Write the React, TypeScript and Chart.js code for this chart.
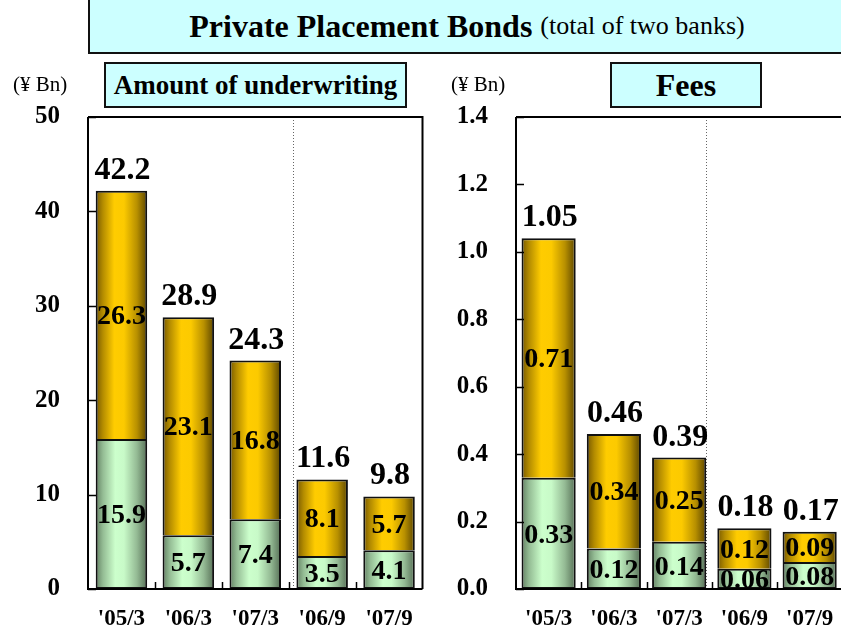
import React, { useEffect, useRef } from "react";
import { Chart, registerables } from "chart.js";

Chart.register(...registerables);

const categories = ["'05/3", "'06/3", "'07/3", "'06/9", "'07/9"];

const amountLower = [15.9, 5.7, 7.4, 3.5, 4.1];
const amountUpper = [26.3, 23.1, 16.8, 8.1, 5.7];
const amountTotal = [42.2, 28.9, 24.3, 11.6, 9.8];

const feesLower = [0.33, 0.12, 0.14, 0.06, 0.08];
const feesUpper = [0.71, 0.34, 0.25, 0.12, 0.09];
const feesTotal = [1.05, 0.46, 0.39, 0.18, 0.17];

const amountAxis = { min: 0, max: 50, step: 10, decimals: 0 };
const feesAxis = { min: 0, max: 1.4, step: 0.2, decimals: 1 };

const SERIF = '"Times New Roman", "Liberation Serif", serif';

const greenStops: [number, string][] = [
  [0, "#628062"],
  [0.14, "#94bc94"],
  [0.38, "#ccffcc"],
  [0.55, "#c8fac8"],
  [0.8, "#94ba94"],
  [1, "#566f56"],
];
const goldStops: [number, string][] = [
  [0, "#765800"],
  [0.14, "#b48c00"],
  [0.36, "#ffcc00"],
  [0.55, "#fcca00"],
  [0.8, "#b89000"],
  [1, "#5c4600"],
];

type PanelCfg = {
  lower: number[];
  upper: number[];
  total: number[];
  axis: { min: number; max: number; step: number; decimals: number };
  valueDecimals: number;
  barPct: number;
  yWidth: number;
  padRight: number;
  dividerOffset: number;
};

function makePlugin(cfg: PanelCfg) {
  return {
    id: "decor",
    beforeDatasetsDraw(chart: any) {
      const { ctx, chartArea: ca } = chart;
      const xs = chart.scales.x;
      const n = categories.length;
      const step = (ca.right - ca.left) / n;
      // dotted divider between fiscal-year and half-year figures
      const bx = xs.getPixelForValue(2) + step / 2 + cfg.dividerOffset;
      ctx.save();
      ctx.strokeStyle = "#666";
      ctx.lineWidth = 1;
      ctx.setLineDash([1, 2]);
      ctx.beginPath();
      ctx.moveTo(Math.round(bx) + 0.5, ca.top);
      ctx.lineTo(Math.round(bx) + 0.5, ca.bottom);
      ctx.stroke();
      ctx.restore();
    },
    beforeDatasetDraw(chart: any, args: any) {
      const stops = args.index === 0 ? greenStops : goldStops;
      const meta = args.meta;
      meta.data.forEach((el: any) => {
        const g = chart.ctx.createLinearGradient(el.x - el.width / 2, 0, el.x + el.width / 2, 0);
        stops.forEach(([o, c]) => g.addColorStop(o, c));
        el.options = Object.assign({}, el.options, { backgroundColor: g });
      });
    },
    afterDatasetsDraw(chart: any) {
      const { ctx, chartArea: ca } = chart;
      ctx.save();
      ctx.beginPath();
      ctx.rect(ca.left, ca.top, ca.right - ca.left, ca.bottom - ca.top);
      ctx.clip();
      ctx.fillStyle = "#000";
      ctx.textAlign = "center";
      ctx.textBaseline = "middle";
      ctx.font = `bold 28px ${SERIF}`;
      chart.data.datasets.forEach((ds: any, di: number) => {
        const meta = chart.getDatasetMeta(di);
        meta.data.forEach((el: any, i: number) => {
          const y = (el.y + el.base) / 2 + 2;
          ctx.fillText(ds.data[i].toFixed(cfg.valueDecimals), el.x, y);
        });
      });
      ctx.restore();

      ctx.save();
      ctx.fillStyle = "#000";
      ctx.textAlign = "center";
      ctx.textBaseline = "alphabetic";
      ctx.font = `bold 32px ${SERIF}`;
      const top = chart.getDatasetMeta(1);
      top.data.forEach((el: any, i: number) => {
        ctx.fillText(cfg.total[i].toFixed(cfg.valueDecimals), el.x + 1, el.y - 12);
      });
      ctx.restore();
    },
    afterDraw(chart: any) {
      const { ctx, chartArea: ca } = chart;
      const ys = chart.scales.y;
      const xs = chart.scales.x;
      const n = categories.length;
      const step = (ca.right - ca.left) / n;
      ctx.save();
      ctx.strokeStyle = "#000";
      ctx.lineWidth = 2;
      ctx.beginPath();
      // frame: left axis, bottom axis, top, right
      ctx.moveTo(ca.left, ca.top);
      ctx.lineTo(ca.left, ca.bottom);
      ctx.lineTo(ca.right, ca.bottom);
      ctx.moveTo(ca.left, ca.top);
      ctx.lineTo(ca.right, ca.top);
      ctx.lineTo(ca.right, ca.bottom);
      ctx.stroke();
      // inward y ticks
      ctx.lineWidth = 1.5;
      ctx.beginPath();
      ys.ticks.forEach((t: any) => {
        const y = Math.round(ys.getPixelForValue(t.value)) + 0.5;
        ctx.moveTo(ca.left, y);
        ctx.lineTo(ca.left + 8, y);
      });
      // category boundary ticks on the bottom axis
      for (let i = 0; i < n - 1; i++) {
        const x = Math.round(xs.getPixelForValue(i) + step / 2) + 0.5;
        ctx.moveTo(x, ca.bottom);
        ctx.lineTo(x, ca.bottom - 7);
      }
      ctx.stroke();
      ctx.restore();
    },
  };
}

function Panel({ cfg, width, left }: { cfg: PanelCfg; width: number; left: number }) {
  const ref = useRef<HTMLCanvasElement | null>(null);
  useEffect(() => {
    if (!ref.current) return;
    const chart = new Chart(ref.current, {
      type: "bar",
      data: {
        labels: categories,
        datasets: [
          {
            data: cfg.lower,
            backgroundColor: "#ccffcc",
            borderColor: "#111",
            borderWidth: 2,
            borderSkipped: false,
            barPercentage: cfg.barPct,
            categoryPercentage: 1,
          },
          {
            data: cfg.upper,
            backgroundColor: "#ffcc00",
            borderColor: "#111",
            borderWidth: 2,
            borderSkipped: "bottom",
            barPercentage: cfg.barPct,
            categoryPercentage: 1,
          },
        ],
      },
      options: {
        responsive: false,
        animation: false,
        layout: { padding: { left: 0, top: 117, right: cfg.padRight, bottom: 0 } },
        plugins: { legend: { display: false }, tooltip: { enabled: false } },
        scales: {
          x: {
            stacked: true,
            grid: { display: false, drawTicks: false },
            border: { display: false },
            ticks: {
              color: "#000",
              padding: 16,
              font: { family: SERIF, size: 23, weight: "bold" },
              maxRotation: 0,
            },
            afterFit: (s: any) => {
              s.height = 40;
            },
          },
          y: {
            stacked: true,
            min: cfg.axis.min,
            max: cfg.axis.max,
            grid: { display: false, drawTicks: false },
            border: { display: false },
            ticks: {
              stepSize: cfg.axis.step,
              color: "#000",
              padding: 28,
              font: { family: SERIF, size: 25, weight: "bold" },
              callback: (v: any) => Number(v).toFixed(cfg.axis.decimals),
            },
            afterFit: (s: any) => {
              s.width = cfg.yWidth;
            },
          },
        },
      },
      plugins: [makePlugin(cfg)],
    } as any);
    return () => chart.destroy();
  }, []);
  return (
    <canvas
      ref={ref}
      width={width}
      height={632}
      style={{ position: "absolute", left, top: 0, display: "block" }}
    />
  );
}

const boxStyle: React.CSSProperties = {
  position: "absolute",
  boxSizing: "border-box",
  background: "#ccffff",
  border: "2px solid #111",
  display: "flex",
  alignItems: "center",
  justifyContent: "center",
  fontFamily: SERIF,
  color: "#000",
  whiteSpace: "nowrap",
};

export default function App() {
  const leftCfg: PanelCfg = {
    lower: amountLower,
    upper: amountUpper,
    total: amountTotal,
    axis: amountAxis,
    valueDecimals: 1,
    barPct: 0.77,
    yWidth: 88,
    padRight: 7.5,
    dividerOffset: 4,
  };
  const rightCfg: PanelCfg = {
    lower: feesLower,
    upper: feesUpper,
    total: feesTotal,
    axis: feesAxis,
    valueDecimals: 2,
    barPct: 0.83,
    yWidth: 86,
    padRight: 7,
    dividerOffset: -6,
  };
  return (
    <div
      style={{
        position: "absolute",
        left: 0,
        top: 0,
        width: 841,
        height: 632,
        overflow: "hidden",
        background: "#fff",
      }}
    >
      <Panel cfg={leftCfg} width={430} left={0} />
      <Panel cfg={rightCfg} width={420} left={430} />
      <div style={{ ...boxStyle, left: 88, top: -2, width: 758, height: 56 }}>
        <span style={{ fontWeight: "bold", fontSize: 32 }}>Private Placement Bonds</span>
        <span style={{ fontSize: 26, marginLeft: 8 }}>(total of two banks)</span>
      </div>
      <div style={{ ...boxStyle, left: 104, top: 62, width: 303, height: 46 }}>
        <span style={{ fontWeight: "bold", fontSize: 27 }}>Amount of underwriting</span>
      </div>
      <div style={{ ...boxStyle, left: 610, top: 62, width: 152, height: 46 }}>
        <span style={{ fontWeight: "bold", fontSize: 32 }}>Fees</span>
      </div>
      <div
        style={{
          position: "absolute",
          left: 13,
          top: 72,
          fontFamily: SERIF,
          fontSize: 21,
          whiteSpace: "nowrap",
        }}
      >
        (¥ Bn)
      </div>
      <div
        style={{
          position: "absolute",
          left: 451,
          top: 72,
          fontFamily: SERIF,
          fontSize: 21,
          whiteSpace: "nowrap",
        }}
      >
        (¥ Bn)
      </div>
    </div>
  );
}
